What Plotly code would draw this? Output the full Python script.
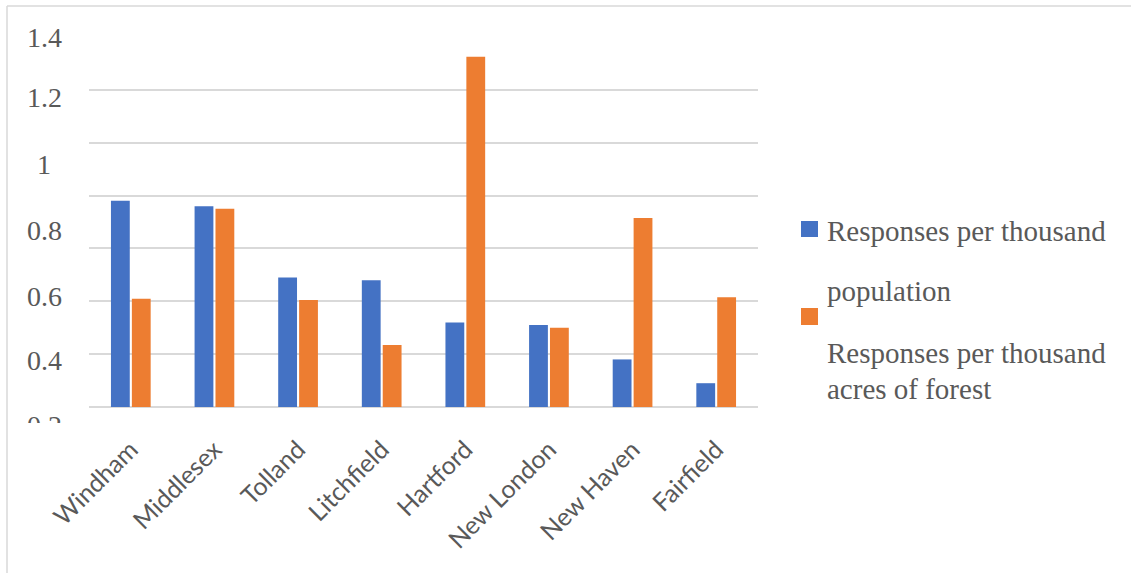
import plotly.graph_objects as go

# Counties and response rates
counties = ["Windham", "Middlesex", "Tolland", "Litchfield",
            "Hartford", "New London", "New Haven", "Fairfield"]
per_population = [0.78, 0.76, 0.49, 0.48, 0.32, 0.31, 0.18, 0.09]
per_forest = [0.41, 0.75, 0.405, 0.235, 1.325, 0.30, 0.715, 0.415]

series_names = ["Responses per thousand population",
                "Responses per thousand acres of forest"]
y_tick_labels = ["1.4", "1.2", "1", "0.8", "0.6", "0.4", "0.2"]

BLUE = "#4472C4"
ORANGE = "#ED7D31"
GRID = "#d9d9d9"
TEXT = "#595959"

W, H = 1131, 573
L, R, T, B = 89, 373, 37, 166
PW, PH = W - L - R, H - T - B


def px_x(px):
    return (px - L) / PW


def px_y(py):
    return (H - B - py) / PH


fig = go.Figure()
fig.add_trace(go.Bar(x=counties, y=per_population, name=series_names[0],
                     marker=dict(color=BLUE, line=dict(width=0))))
fig.add_trace(go.Bar(x=counties, y=per_forest, name=series_names[1],
                     marker=dict(color=ORANGE, line=dict(width=0))))

annotations = []
# value labels down the left side
label_centers = [38, 97, 164, 230, 296, 360, 425]
for txt, cy in zip(y_tick_labels, label_centers):
    annotations.append(dict(
        text=txt, xref="paper", yref="paper", x=px_x(44), y=px_y(cy),
        xanchor="center", yanchor="middle", showarrow=False,
        font=dict(family="Liberation Serif", size=28, color=TEXT)))
# lower edge of the label column is cut off
annotations.append(dict(
    text=" ", xref="paper", yref="paper", x=px_x(15), y=px_y(423),
    xanchor="left", yanchor="top", showarrow=False, width=70, height=16,
    bgcolor="white", borderpad=0, borderwidth=0))

# legend text
legend_lines = [("Responses per thousand", 231),
                ("population", 291),
                ("Responses per thousand", 353),
                ("acres of forest", 389)]
for txt, cy in legend_lines:
    annotations.append(dict(
        text=txt, xref="paper", yref="paper", x=px_x(825), y=px_y(cy),
        xanchor="left", yanchor="middle", showarrow=False,
        font=dict(family="Liberation Serif", size=29, color=TEXT)))

shapes = [
    # chart frame (top and left edges)
    dict(type="line", xref="paper", yref="paper",
         x0=px_x(7), x1=px_x(W + 5), y0=px_y(6), y1=px_y(6),
         line=dict(color=GRID, width=1.5)),
    dict(type="line", xref="paper", yref="paper",
         x0=px_x(7), x1=px_x(7), y0=px_y(6), y1=px_y(H + 5),
         line=dict(color=GRID, width=1.5)),
    # legend swatches
    dict(type="rect", xref="paper", yref="paper",
         x0=px_x(801), x1=px_x(818), y0=px_y(221), y1=px_y(237),
         fillcolor=BLUE, line=dict(width=0)),
    dict(type="rect", xref="paper", yref="paper",
         x0=px_x(801), x1=px_x(818), y0=px_y(308), y1=px_y(325),
         fillcolor=ORANGE, line=dict(width=0)),
]

fig.update_layout(
    width=W, height=H,
    margin=dict(l=L, r=R, t=T, b=B, pad=0, autoexpand=False),
    paper_bgcolor="white", plot_bgcolor="white",
    barmode="group", bargap=0.5, bargroupgap=0.1,
    showlegend=False,
    annotations=annotations, shapes=shapes,
    xaxis=dict(
        automargin=False,
        tickangle=-45,
        tickfont=dict(family="Lato", size=25, color=TEXT),
        ticks="outside", ticklen=17, tickcolor="rgba(0,0,0,0)",
        showline=False, showgrid=False, zeroline=False,
    ),
    yaxis=dict(
        automargin=False,
        range=[0, 1.4], dtick=0.2, showticklabels=False,
        showgrid=True, gridcolor=GRID, gridwidth=1.5,
        zeroline=True, zerolinecolor=GRID, zerolinewidth=1.5,
        showline=False, ticks="",
    ),
)

fig.write_html("out.html")
